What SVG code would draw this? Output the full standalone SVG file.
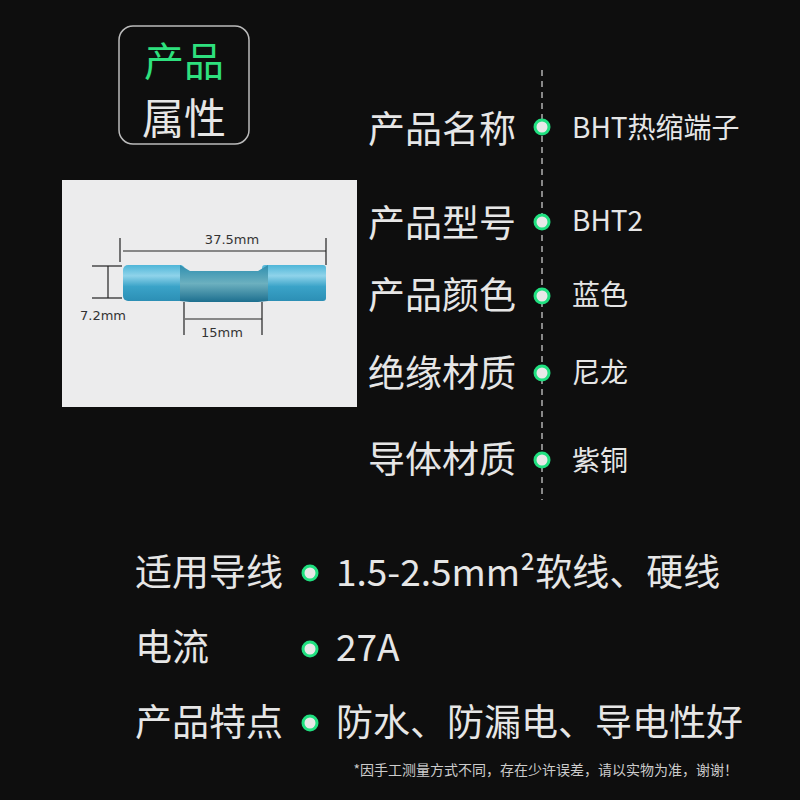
<svg xmlns="http://www.w3.org/2000/svg" width="800" height="800" viewBox="0 0 800 800">
<defs>
<style>
.t{font-family:"Noto Sans CJK SC","Noto Sans",sans-serif;fill:#e6e6e6}
.lab{font-size:37px}
.val{font-size:28px}
.big{font-size:37px}
.dot{fill:#e8e8e8;stroke:#20e080;stroke-width:3}
.dim{stroke:#222;stroke-width:1.2;fill:none}
.dt{font-family:"DejaVu Sans",sans-serif;font-size:13px;fill:#333}
</style>
<linearGradient id="tube" x1="0" y1="0" x2="0" y2="1">
<stop offset="0" stop-color="#4fb6d8"/><stop offset="0.3" stop-color="#8fd3ea"/><stop offset="0.6" stop-color="#3aa3c8"/><stop offset="1" stop-color="#2c8fb5"/>
</linearGradient>
<linearGradient id="mid" x1="0" y1="0" x2="0" y2="1">
<stop offset="0" stop-color="#2f8fb0"/><stop offset="0.5" stop-color="#6cb0bf"/><stop offset="1" stop-color="#1d6f8f"/>
</linearGradient>
</defs>
<rect width="800" height="800" fill="#0e0e0e"/>
<g id="header">
<rect x="119" y="26" width="130" height="118" rx="14" fill="none" stroke="#bbb" stroke-width="1.5"/>
<text class="t" x="184" y="76" font-size="40" text-anchor="middle" style="fill:#2ee07e">产品</text>
<text class="t" x="184" y="134" font-size="42" text-anchor="middle">属性</text>
</g>
<g id="photo">
<rect x="62" y="180" width="295" height="227" fill="#ececed"/>
<rect x="123" y="265" width="62" height="36" rx="5" fill="url(#tube)"/>
<rect x="262" y="265" width="64" height="36" rx="3" fill="url(#tube)"/>
<path d="M180 265 L190 271 L258 271 L268 265 L268 301 L258 302 L190 302 L180 301 Z" fill="url(#mid)"/>
<g class="dim">
<line x1="123" y1="251" x2="326" y2="251"/>
<line x1="120" y1="238" x2="120" y2="262"/>
<line x1="326" y1="238" x2="326" y2="265"/>
<line x1="92" y1="266" x2="122" y2="266"/>
<line x1="92" y1="298" x2="122" y2="298"/>
<line x1="108" y1="266" x2="108" y2="298"/>
<line x1="185" y1="319" x2="262" y2="319"/>
<line x1="184" y1="302" x2="184" y2="335"/>
<line x1="262" y1="302" x2="262" y2="335"/>
</g>
<text class="dt" x="232" y="244" text-anchor="middle">37.5mm</text>
<text class="dt" x="80" y="320">7.2mm</text>
<text class="dt" x="222" y="337" text-anchor="middle">15mm</text>
</g>
<g id="connectors">
<line x1="542" y1="70" x2="542" y2="500" stroke="#888" stroke-width="2" stroke-dasharray="6,5"/>
</g>
<g id="specs">
<text class="t lab" x="368" y="143">产品名称</text><circle class="dot" cx="542" cy="127" r="7"/><text class="t val" x="572" y="138">BHT热缩端子</text>
<text class="t lab" x="368" y="237">产品型号</text><circle class="dot" cx="542" cy="222" r="7"/><text class="t val" x="572" y="231">BHT2</text>
<text class="t lab" x="368" y="309">产品颜色</text><circle class="dot" cx="542" cy="296" r="7"/><text class="t val" x="572" y="305">蓝色</text>
<text class="t lab" x="368" y="387">绝缘材质</text><circle class="dot" cx="542" cy="373" r="7"/><text class="t val" x="572" y="383">尼龙</text>
<text class="t lab" x="368" y="473">导体材质</text><circle class="dot" cx="542" cy="460" r="7"/><text class="t val" x="572" y="471">紫铜</text>
</g>
<g id="bottom">
<text class="t big" x="135" y="586">适用导线</text><circle class="dot" cx="310" cy="573" r="7"/><text class="t big" x="336" y="586">1.5-2.5mm²软线、硬线</text>
<text class="t big" x="135" y="661">电流</text><circle class="dot" cx="310" cy="649" r="7"/><text class="t big" x="336" y="661">27A</text>
<text class="t big" x="135" y="736">产品特点</text><circle class="dot" cx="310" cy="723" r="7"/><text class="t big" x="336" y="736">防水、防漏电、导电性好</text>
<text class="t" x="738" y="775" font-size="14" text-anchor="end" style="fill:#ccc">*因手工测量方式不同，存在少许误差，请以实物为准，谢谢！</text>
</g>
</svg>
